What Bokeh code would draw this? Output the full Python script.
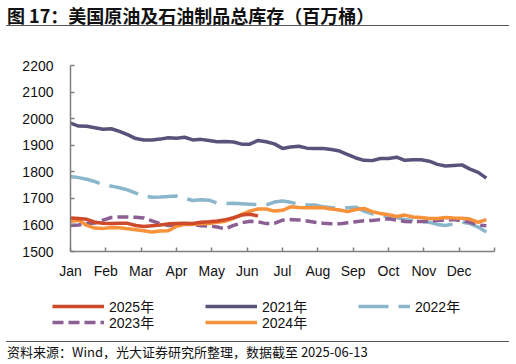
from bokeh.plotting import figure
from bokeh.models import Range1d, FixedTicker, Legend, LegendItem, Div
from bokeh.layouts import column
from bokeh.embed import file_html
from bokeh.resources import INLINE

months = ["Jan", "Feb", "Mar", "Apr", "May", "Jun", "Jul", "Aug", "Sep", "Oct", "Nov", "Dec"]

y2021 = [1983, 1972, 1971, 1966, 1960, 1962, 1952, 1940, 1925, 1920, 1920, 1923, 1928,
         1926, 1930, 1920, 1922, 1918, 1913, 1914, 1912, 1904, 1904, 1918, 1913, 1905,
         1888, 1893, 1896, 1889, 1888, 1888, 1884, 1878, 1865, 1852, 1843, 1842, 1850,
         1850, 1855, 1843, 1845, 1845, 1840, 1828, 1822, 1824, 1826, 1810, 1798, 1776]
y2022 = [1782, 1778, 1772, 1763, 1752, 1746, 1740, 1732, 1720, 1710, 1704, 1705, 1707,
         1709, 1700, 1692, 1695, 1693, 1682, 1680, 1682, 1680, 1678, 1676, 1675, 1686,
         1690, 1685, 1678, 1676, 1675, 1668, 1665, 1662, 1665, 1667, 1652, 1642, 1636,
         1630, 1628, 1620, 1617, 1612, 1610, 1602, 1598, 1604, 1610, 1605, 1592, 1573]
y2023 = [1598, 1600, 1605, 1607, 1618, 1628, 1630, 1630, 1629, 1626, 1615, 1605, 1598,
         1600, 1603, 1601, 1597, 1596, 1592, 1585, 1598, 1608, 1614, 1612, 1605, 1606,
         1618, 1620, 1619, 1615, 1610, 1606, 1604, 1604, 1608, 1612, 1616, 1617, 1620,
         1623, 1618, 1613, 1612, 1613, 1614, 1617, 1618, 1620, 1616, 1610, 1600, 1597]
y2024 = [1614, 1618, 1598, 1588, 1587, 1590, 1589, 1586, 1582, 1578, 1573, 1577, 1578,
         1595, 1602, 1603, 1604, 1605, 1610, 1614, 1625, 1640, 1652, 1660, 1660, 1652,
         1655, 1668, 1666, 1665, 1666, 1665, 1660, 1656, 1650, 1658, 1662, 1650, 1643,
         1638, 1632, 1637, 1630, 1628, 1624, 1624, 1628, 1626, 1625, 1622, 1610, 1620]
y2025 = [1626, 1624, 1621, 1610, 1606, 1605, 1606, 1606, 1598, 1594, 1597, 1600, 1604,
         1605, 1606, 1605, 1610, 1612, 1615, 1620, 1627, 1637, 1640, 1634]

SERIES = {"2021年": y2021, "2022年": y2022, "2023年": y2023, "2024年": y2024, "2025年": y2025}

FONT = "'Liberation Sans', 'Noto Sans CJK SC'"

STYLES = {
    "2021年": dict(line_color="#57537A", line_width=3.5),
    "2022年": dict(line_color="#8AB6CC", line_width=3.5, line_dash="30 10"),
    "2023年": dict(line_color="#8B5E94", line_width=3.5, line_dash="11 5"),
    "2024年": dict(line_color="#F7913A", line_width=3.5),
    "2025年": dict(line_color="#CD4A2A", line_width=3.5),
}

p = figure(width=516, height=258, output_backend="svg", toolbar_location=None,
           x_range=Range1d(0, 52), y_range=Range1d(1500, 2200),
           min_border_left=70, min_border_right=22, min_border_top=32, min_border_bottom=40)
p.outline_line_color = None
p.background_fill_color = None
p.border_fill_color = None
p.xgrid.visible = False
p.ygrid.visible = False

def weeks(vals):
    return list(range(len(vals)))

for name, vals in SERIES.items():
    p.line(weeks(vals), vals, **STYLES[name])

tick_pos = [i * 52 / 12 for i in range(13)]
p.xaxis.ticker = FixedTicker(ticks=tick_pos)
p.xaxis.major_label_overrides = {t: (months[i] if i < 12 else "") for i, t in enumerate(tick_pos)}
p.yaxis.ticker = FixedTicker(ticks=list(range(1500, 2201, 100)))

for ax in (p.xaxis[0], p.yaxis[0]):
    ax.axis_line_color = "#7f7f7f"
    ax.axis_line_width = 1.5
    ax.major_tick_line_color = "#7f7f7f"
    ax.major_tick_line_width = 1.5
    ax.major_tick_in = 4
    ax.major_tick_out = 0
    ax.minor_tick_line_color = None
    ax.major_label_text_font = FONT
    ax.major_label_text_font_size = "14px"
    ax.major_label_text_color = "#111111"
p.yaxis.major_label_standoff = 17
p.xaxis.major_label_standoff = 11

# legend strip (separate figure; its line proxies lie outside its visible range)
lg = figure(width=516, height=50, output_backend="svg", toolbar_location=None,
            x_range=Range1d(100, 101), y_range=Range1d(0, 1),
            x_axis_location=None, y_axis_location=None,
            min_border_left=0, min_border_right=0, min_border_top=0, min_border_bottom=0)
try:
    lg.frame_align = False
except Exception:
    pass
lg.outline_line_color = None
lg.background_fill_color = None
lg.border_fill_color = None
lg.xgrid.visible = False
lg.ygrid.visible = False
proxies = {k: lg.line(weeks(SERIES[k]), SERIES[k], **v) for k, v in STYLES.items()}

def make_legend(labels, loc):
    leg = Legend(items=[LegendItem(label=l, renderers=[proxies[l]]) for l in labels],
                 location=loc, orientation="horizontal")
    leg.glyph_width = 52
    leg.glyph_height = 14
    leg.label_height = 14
    leg.label_width = 96
    leg.label_standoff = 5
    leg.spacing = 0
    leg.padding = 0
    leg.margin = 0
    leg.border_line_color = None
    leg.background_fill_alpha = 0
    leg.label_text_font = FONT
    leg.label_text_font_size = "14px"
    leg.label_text_color = "#111111"
    lg.add_layout(leg, "center")

make_legend(["2025年", "2021年", "2022年"], (52, 25))
make_legend(["2023年", "2024年"], (52, 9))

title = Div(text=("<div style=\"font-family:'Noto Sans CJK SC';font-weight:bold;font-size:18px;"
                  "line-height:22px;height:26px;padding-top:4px;padding-left:1px;margin-left:6px;"
                  "width:503px;border-bottom:1.5px solid #555;"
                  "color:#111;white-space:nowrap;\">图 17：美国原油及石油制品总库存（百万桶）</div>"),
            width=516, height=33, margin=0)
footer = Div(text=("<div style=\"font-family:'Noto Sans CJK SC';font-size:13px;"
                   "line-height:16px;margin-left:6px;padding-left:1px;width:503px;"
                   "border-top:1.5px solid #555;padding-top:2px;"
                   "color:#111;white-space:nowrap;\">资料来源：Wind，光大证券研究所整理，数据截至 2025-06-13</div>"),
             width=516, height=23, margin=0)

layout = column(title, p, lg, footer, spacing=0, margin=0)
open("out.html", "w").write(file_html(layout, INLINE))
